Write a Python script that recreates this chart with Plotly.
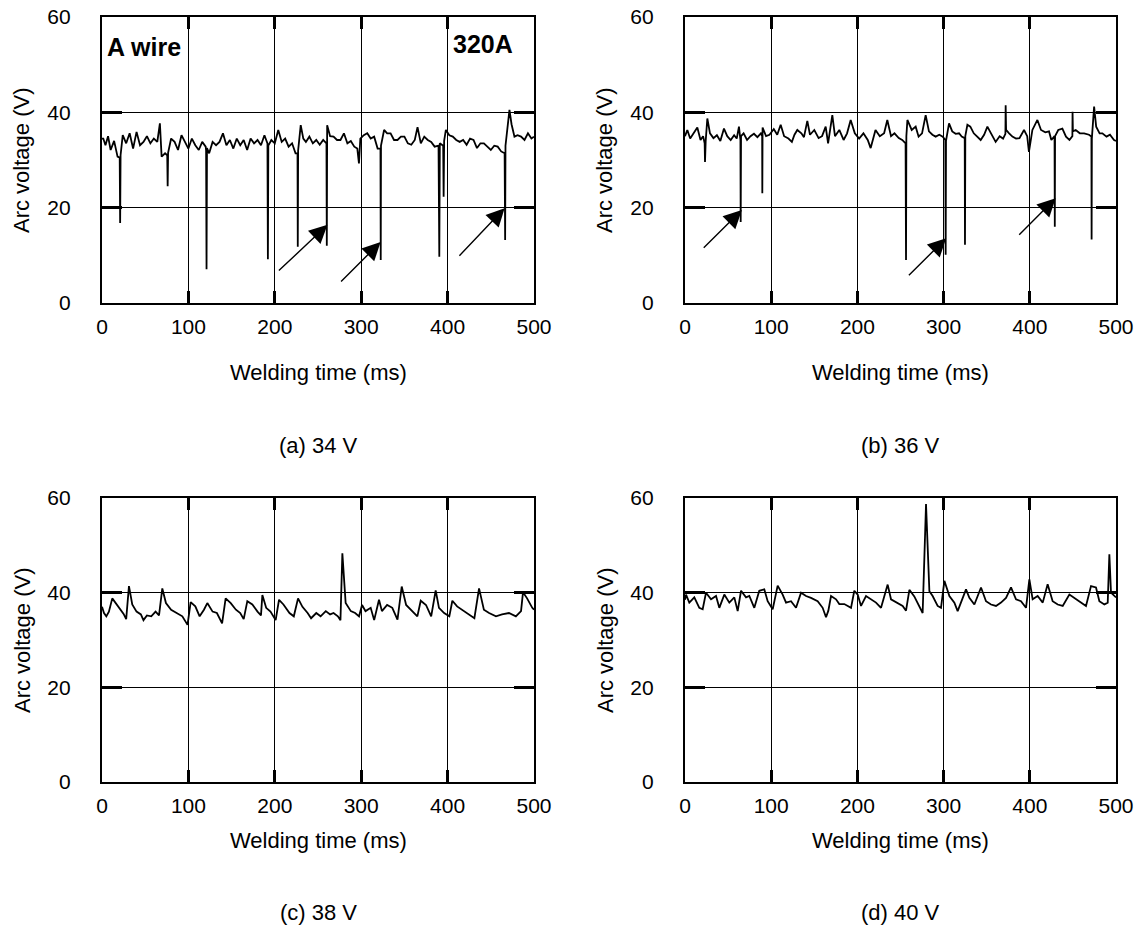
import plotly.graph_objects as go

# ---------------- data ----------------
a_t = [0, 1.5, 4, 7, 10, 14, 18, 20.5, 21, 21.5, 24, 28, 32, 36, 40, 44, 48, 52, 56, 60, 64, 67, 69, 73, 75.5, 76, 76.5,
       80, 84, 88, 92, 96, 100, 104, 108, 112, 116, 120, 120.5, 121, 121.5, 124, 128, 132, 136, 140, 144, 148, 152, 156,
       160, 164, 168, 172, 176, 180, 184, 188, 191.5, 192, 192.5, 196, 200, 204, 208, 212, 216, 220, 224, 226.3, 226.6,
       227, 230, 233, 236, 240, 244, 248, 252, 256, 259.8, 260.2, 260.6, 264, 268, 272, 276, 280, 284, 288, 292, 295.5,
       297.4, 299, 303, 307, 311, 315, 319, 322.3, 322.6, 322.9, 326.5, 330, 334, 338, 342, 346, 350, 354, 358, 362,
       365.2, 369, 373, 377, 381, 385, 389.5, 390.4, 391, 394.9, 395.4, 396, 398, 402, 406, 410, 414, 418, 422, 426, 430,
       434, 438, 442, 446, 450, 454, 458, 462, 466, 466.6, 467, 471.6, 474, 477.4, 481, 485, 489, 493, 497, 500]
a_v = [34.5, 34.5, 33.1, 35, 32.1, 34, 30.7, 30.5, 16.8, 31, 35.2, 33.5, 35.6, 32.4, 35.9, 33.1, 33.8, 35, 33.5, 34.5,
       33.8, 37.7, 30.7, 31.4, 31, 24.5, 31.5, 34.5, 33.8, 32.1, 35.2, 33.8, 32.4, 34.5, 33.1, 32.1, 33.8, 32.8, 32, 7.1,
       32.5, 31.4, 33.8, 33.1, 33.8, 35.6, 33.1, 34.2, 32.4, 34.5, 33.1, 34.2, 32.1, 34.5, 33.5, 34.2, 33.1, 35.2, 33.5,
       9.2, 33, 34.2, 33.5, 36.3, 33.8, 34.5, 32.8, 33.5, 31.4, 31.4, 11.8, 32, 37.3, 34.5, 33.8, 34.9, 33.5, 34.2, 33.2,
       34.2, 33.5, 12, 37.3, 35, 34.9, 34.2, 34.2, 35.6, 33.5, 34, 32.8, 32.4, 29.3, 34.5, 35.2, 35.6, 34.5, 34.9, 32.4,
       32.4, 9, 33, 36.3, 35.6, 35.6, 34.2, 34.2, 34.9, 34.9, 33.5, 33.2, 34.2, 36.9, 33.5, 34.9, 34.2, 33.8, 32.8, 33,
       9.7, 33.5, 33, 22.3, 34, 36.3, 35.2, 34.9, 34.2, 33.8, 34.2, 33.2, 34.5, 34.2, 32.5, 33.5, 33.5, 32.8, 32.1, 33,
       32.8, 31.8, 31.4, 13.2, 33, 40.5, 37.5, 34.9, 35.2, 34.9, 34.2, 35.6, 34.5, 34.9]

b_t = [0, 2.7, 6, 10, 14.3, 18, 21, 22.8, 23.2, 24, 25.9, 29, 33, 37, 41, 45.2, 49, 53, 57, 60, 62.6, 64.3, 64.6, 65,
       68, 72, 76, 80, 84, 88, 89.5, 89.7, 90, 94, 98, 103, 107, 111, 115, 120, 124, 127, 130.3, 135, 138, 141.9, 145,
       150, 155, 159, 163.2, 166, 170.9, 174, 179, 184, 188, 192.2, 197, 202, 207, 212, 215.4, 221, 226, 231, 234.7,
       239, 243, 248, 252, 255.9, 256.4, 256.8, 258, 263, 267.6, 271, 275, 279.2, 283, 287, 290.8, 295, 299, 302,
       302.4, 302.8, 306.3, 310, 314, 317.9, 321, 324.5, 324.8, 325.2, 327.6, 331, 335, 339.2, 343, 347, 350.8, 355,
       360.4, 365, 369, 371.7, 372, 372.5, 376, 379.8, 384, 388, 393.3, 397, 399, 401, 403, 408.8, 413, 418, 422.3,
       425, 428.7, 429, 429.3, 433, 437.8, 442, 446, 449.4, 449.6, 450, 453.3, 458, 463, 468.7, 471.5, 471.7, 472,
       474.6, 477, 481, 484.2, 489, 493, 497.7, 500]
b_v = [35, 36.3, 34.5, 35.5, 36.8, 34.2, 35, 33.5, 29.6, 34, 38.7, 35.6, 34.6, 35.2, 34, 36.6, 35, 34.2, 35.2, 34.5,
       37, 34.2, 17, 35, 35.6, 34.2, 35, 35.5, 34.8, 35.6, 35, 23, 36.8, 35, 35.3, 36.5, 35.3, 37.4, 35, 34.5, 33.8,
       35.3, 36.3, 35.6, 34.8, 38.2, 35.3, 36.3, 34.6, 35, 37, 33.5, 39.4, 35, 36.3, 34.2, 35.6, 38.4, 35.6, 34.5, 35.6,
       34.2, 32.5, 36.3, 35, 35.6, 38.4, 35, 35.6, 34.6, 34.2, 33.5, 9, 35, 38.4, 36.3, 37, 34.9, 35.6, 39.4, 36, 35.3,
       34.9, 35.3, 34.9, 34.2, 10.1, 34, 37.7, 36, 35.5, 35.6, 34.9, 34.6, 12.2, 35, 37.4, 37, 35.6, 34.9, 34.2, 35.3,
       37, 35.6, 33.8, 35, 34.5, 35.5, 41.5, 36.3, 35.6, 34.9, 34.5, 34.6, 36.3, 35, 31.7, 34, 36.3, 38.4, 36.3, 35.8,
       36, 34.2, 35, 16, 35, 36.3, 36.6, 34.9, 34.2, 35, 40.1, 36, 36.3, 35.6, 35.6, 35.3, 34.9, 13.3, 34.5, 41.2, 37,
       35.6, 35.6, 34.9, 35.3, 34.2, 34]

c_t = [0, 2.3, 5, 8, 11.9, 15, 20, 25, 28, 31.2, 35, 40, 45, 48, 52, 57, 62, 66, 69.8, 74, 80, 86, 93, 99, 102.6,
       108, 113, 118, 121.9, 128, 133, 139, 143.1, 149, 155, 160, 164, 168.2, 174, 180, 184, 185.6, 190, 195, 201,
       204.9, 210, 217, 222, 226.9, 232, 238, 242, 248, 253, 259, 264, 268, 273, 276, 278.2, 282, 288, 293, 297.5,
       301, 305, 311, 315, 320.6, 324, 330, 336, 342, 346.9, 352, 359, 365, 368.9, 375, 381, 386.2, 390, 396, 402,
       405.5, 411, 417, 423, 431, 436.4, 442, 448, 456, 463, 471, 479, 485, 487.3, 492, 498, 500]
c_v = [37, 35.7, 35, 36, 38.8, 38, 36.8, 35.5, 34.4, 41.4, 37.5, 36, 35.4, 34.2, 35.2, 35, 36, 35.2, 40.9, 37.8, 36.4,
       35.7, 35, 33.2, 38, 37.1, 35, 36.4, 37.8, 36, 35.7, 33.5, 38.8, 37.8, 36.4, 35.7, 34.4, 38.2, 37.5, 36, 35.2,
       39.5, 36.8, 36, 34.2, 38.5, 37.5, 35.7, 35, 38.8, 37, 35.7, 34.6, 35.7, 35, 36.1, 35.4, 35.7, 35, 34.2, 48.3,
       37.8, 36.1, 35.7, 35, 37.4, 36.1, 36.8, 34.2, 38.5, 36.1, 37.4, 36.8, 34.3, 41.3, 37.4, 36.1, 35, 38.3, 37.4, 35,
       40.5, 36.8, 35.7, 35, 38.3, 37.1, 36.4, 35.7, 34.6, 40.9, 36.4, 35.7, 35, 35.4, 35.7, 35, 36.1, 40.1, 38.8, 36.8,
       36.4]

d_t = [0, 1.2, 5, 10.8, 16.6, 20.5, 24.4, 30.2, 36, 39.8, 45.6, 51.4, 57.2, 61.1, 65, 70.8, 74.6, 80.4, 86.2, 92,
       95.9, 101.7, 107.5, 113.3, 117.2, 123, 128.8, 134.6, 140.4, 146.2, 153.9, 159.7, 163.6, 166.3, 169.4, 175.2,
       179, 184.8, 192.6, 196.4, 200.3, 204.2, 210, 215.8, 221.6, 227.4, 235.1, 239, 246.7, 252.5, 256.4, 260.3, 266,
       271.9, 275.7, 279.6, 283.5, 287.3, 293.1, 297, 300.9, 306.7, 312.5, 316.3, 322.1, 326, 329.9, 335.7, 343.4,
       349.2, 355, 360.8, 366.6, 372.4, 378.2, 384, 389.8, 395.6, 399.5, 403.3, 409.1, 415, 420.7, 426.5, 432.4, 438.2,
       445.9, 451.7, 459.4, 465.2, 471, 476.8, 480.7, 486.5, 490.4, 492.3, 494.2, 496.2, 500]
d_v = [38.5, 39.6, 37.9, 39, 36.8, 36.5, 40, 38.6, 39.3, 36.8, 39.6, 37.9, 39, 36.1, 40.4, 39, 39.3, 36.8, 40.4, 40.7,
       38.2, 36.5, 41.5, 39.6, 37.9, 38.2, 36.8, 40, 39.3, 38.9, 38.2, 36.8, 34.8, 36.2, 39.3, 38.6, 37.6, 37.6, 36.8,
       40.4, 39.6, 37.2, 39.3, 38.6, 37.9, 36.8, 41.7, 38.6, 37.9, 37.2, 36.2, 40.6, 39.2, 37.2, 35.7, 58.7, 40.3, 39.3,
       37.2, 36.8, 42.5, 39.3, 37.9, 36.1, 38.9, 40.7, 38.9, 37.5, 41.1, 38.2, 37.5, 37.2, 37.9, 38.9, 41.1, 38.6, 38.2,
       36.8, 42.8, 38.6, 39.3, 37.9, 41.8, 38.2, 37.5, 37.2, 39.6, 38.9, 37.9, 37.2, 41.4, 41.1, 38.2, 37.5, 37.9, 48.1,
       40, 39.6, 39]

captions = ["(a) 34 V", "(b) 36 V", "(c) 38 V", "(d) 40 V"]
x_ticks = [0, 100, 200, 300, 400, 500]
y_ticks = [0, 20, 40, 60]

# arrows: (tip_x, tip_y, tail_x, tail_y)
arrows_a = [(261, 16.4, 203, 6.5), (322.5, 12.8, 275, 4.2), (466, 19.9, 412, 9.6)]
arrows_b = [(66, 19.5, 20, 11.3), (303, 13.6, 258, 5.5), (430, 22, 386, 14)]

# ---------------- figure ----------------
W, H = 1143, 939
FONT = "Liberation Sans, Arial, sans-serif"
TICK_SIZE = 21
TEXT_SIZE = 22


def px(xabs):
    return xabs / W


def py(yabs):
    return 1 - yabs / H


col_x = [(px(102), px(534)), (px(685), px(1116))]
row_y = [(py(303), py(17)), (py(782), py(498))]
layout_pos = [(0, 0), (1, 0), (0, 1), (1, 1)]
series = [(a_t, a_v), (b_t, b_v), (c_t, c_v), (d_t, d_v)]

fig = go.Figure()
layout = dict(width=W, height=H, margin=dict(l=0, r=0, t=0, b=0, autoexpand=False),
              paper_bgcolor="white", plot_bgcolor="white", showlegend=False,
              font=dict(family=FONT, size=TICK_SIZE, color="black"))
annotations = []

for i, ((t, v), (c, r), cap) in enumerate(zip(series, layout_pos, captions)):
    sfx = "" if i == 0 else str(i + 1)
    fig.add_trace(go.Scatter(x=t, y=v, mode="lines", line=dict(color="black", width=1.8),
                             xaxis="x" + sfx, yaxis="y" + sfx, hoverinfo="skip"))
    common = dict(showgrid=True, gridcolor="black", gridwidth=1, showline=True, linecolor="black",
                  linewidth=2.2, mirror="allticks", ticks="inside", tickwidth=2.5, tickcolor="black",
                  zeroline=False, automargin=False, ticklabeloverflow="allow",
                  tickfont=dict(family=FONT, size=TICK_SIZE, color="black"))
    layout["xaxis" + sfx] = dict(common, domain=list(col_x[c]), range=[0, 500], tickvals=x_ticks,
                                 ticklen=12, anchor="y" + sfx, ticklabelstandoff=4)
    layout["yaxis" + sfx] = dict(common, domain=list(row_y[r]), range=[0, 60], tickvals=y_ticks,
                                 ticklen=20, anchor="x" + sfx, ticklabelstandoff=25)
    cx = (col_x[c][0] + col_x[c][1]) / 2
    ytitle_x = px(22) if c == 0 else px(605)
    cy = (row_y[r][0] + row_y[r][1]) / 2
    title_y = py(372) if r == 0 else py(840)
    cap_y = py(445) if r == 0 else py(912)
    annotations.append(dict(text="Welding time (ms)", x=cx, y=title_y, xref="paper", yref="paper",
                            showarrow=False, font=dict(size=TEXT_SIZE), xanchor="center", yanchor="middle"))
    annotations.append(dict(text="Arc voltage (V)", x=ytitle_x, y=cy, xref="paper", yref="paper",
                            showarrow=False, textangle=-90, font=dict(size=TEXT_SIZE),
                            xanchor="center", yanchor="middle"))
    annotations.append(dict(text=cap, x=cx, y=cap_y, xref="paper", yref="paper", showarrow=False,
                            font=dict(size=TEXT_SIZE), xanchor="center", yanchor="middle"))

annotations.append(dict(text="<b>A wire</b>", x=0.007, y=0.895, xref="x domain", yref="y domain",
                        showarrow=False, xanchor="left", yanchor="middle", font=dict(size=25)))
annotations.append(dict(text="<b>320A</b>", x=0.956, y=0.905, xref="x domain", yref="y domain",
                        showarrow=False, xanchor="right", yanchor="middle", font=dict(size=25)))

for arrs, sfx in ((arrows_a, ""), (arrows_b, "2")):
    for tx, ty, ax, ay in arrs:
        annotations.append(dict(x=tx, y=ty, ax=ax, ay=ay, xref="x" + sfx, yref="y" + sfx,
                                axref="x" + sfx, ayref="y" + sfx, text="", showarrow=True,
                                arrowhead=2, arrowsize=2.6, arrowwidth=1.4, arrowcolor="black",
                                standoff=0))

layout["annotations"] = annotations
fig.update_layout(**layout)
# remove the default page margin so the 1143x939 figure fills the window exactly
fig.write_html("out.html", config={"displayModeBar": False},
               post_script="document.body.style.margin='0';")
